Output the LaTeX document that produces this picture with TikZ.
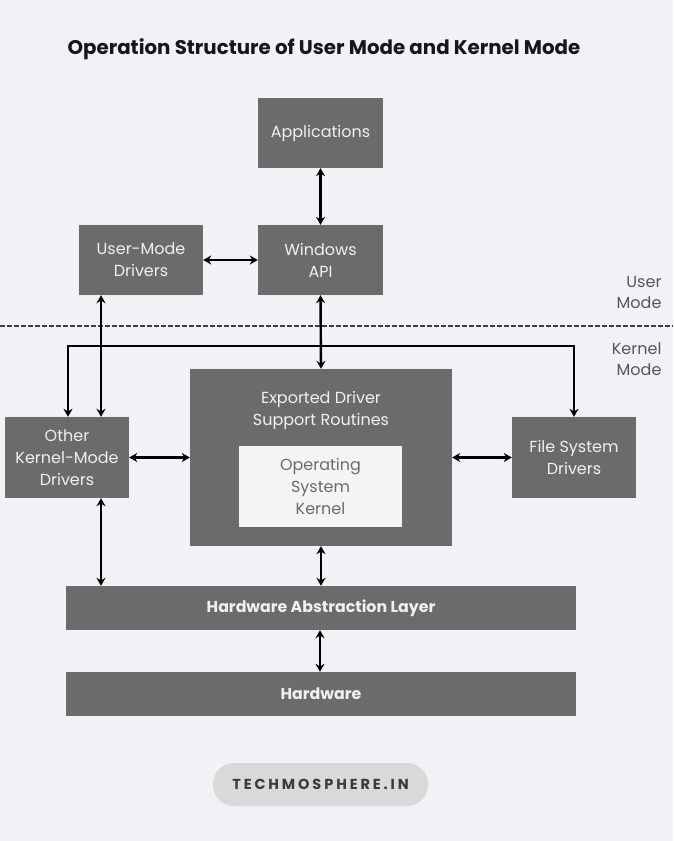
\documentclass[tikz,border=0pt]{standalone}
\usepackage{fontspec}
\setmainfont{Poppins}
\usetikzlibrary{arrows.meta}
\definecolor{bg}{HTML}{F1F2F5}
\definecolor{boxg}{HTML}{6B6B6B}
\definecolor{inner}{HTML}{F4F4F6}
\definecolor{pill}{HTML}{D9D9DA}
\definecolor{ttl}{HTML}{16161C}
\tikzset{
  gbox/.style={draw=none, fill=boxg, text=white!94!black, align=center, inner sep=0pt,
    font=\fontsize{16}{22}\selectfont},
  conn/.style={line width=2.4pt, black, {Stealth[length=8pt,width=9pt]}-{Stealth[length=8pt,width=9pt]}},
  oneway/.style={line width=2pt, black, -{Stealth[length=8pt,width=9pt]}},
  side/.style={text=boxg!80!black, align=right, anchor=east, font=\fontsize{16}{21}\selectfont}
}
\begin{document}
\begin{tikzpicture}[x=1pt,y=-1pt]
\fill[bg] (0,0) rectangle (673,841);
\useasboundingbox (0,0) rectangle (673,841);

\node[font=\fontsize{19.8}{22}\selectfont\bfseries, text=ttl] (title) at (324,49) {Operation Structure of User Mode and Kernel Mode};

\node[gbox, minimum width=125pt, minimum height=70pt] (app) at (320.5,133) {\raisebox{-2pt}{Applications}};
\node[gbox, minimum width=125pt, minimum height=70pt] (api) at (320.5,260) {Windows\\API};
\node[gbox, minimum width=124pt, minimum height=70pt] (umd) at (141,260) {User-Mode\\Drivers};

\draw[line width=1.3pt, dash pattern=on 4.5pt off 2.5pt, black!75] (0,326) -- (673,326);
\node[side] (um) at (665,292.5) {User\\Mode};
\node[side] (km) at (665,359.5) {Kernel\\Mode};

\node[gbox, minimum width=262pt, minimum height=177pt] (exp) at (321,457.5) {};
\node[text=white!94!black, align=center, font=\fontsize{16}{22}\selectfont] (exptxt) at (321,410.5) {Exported Driver\\Support Routines};
\node[fill=inner, text=boxg, align=center, inner sep=0pt, minimum width=163pt, minimum height=81pt, font=\fontsize{16}{22}\selectfont] (osk) at (320.5,486.5) {Operating\\System\\Kernel};

\node[gbox, minimum width=124pt, minimum height=81pt] (okm) at (67,457.5) {Other\\Kernel-Mode\\Drivers};
\node[gbox, minimum width=124pt, minimum height=81pt] (fsd) at (574,457.5) {File System\\Drivers};

\node[gbox, minimum width=510pt, minimum height=44pt, font=\fontsize{15.8}{20}\selectfont\bfseries] (hal) at (321,608) {Hardware Abstraction Layer};
\node[gbox, minimum width=510pt, minimum height=44pt, font=\fontsize{15.8}{20}\selectfont\bfseries] (hw) at (321,694) {Hardware};

\node[fill=pill, rounded corners=21pt, minimum width=215pt, minimum height=43pt, inner sep=0pt, text=ttl!85!white, font=\fontsize{14.5}{16}\selectfont\bfseries\addfontfeatures{LetterSpace=20}] (brand) at (320.5,784.5) {TECHMOSPHERE.IN};

% connectors
\draw[conn] (app.south) -- (api.north);
\draw[conn] (umd.east) -- (api.west);
\draw[conn] (umd.south -| 101,0) -- (okm.north -| 101,0);
\draw[conn] (api.south) -- (exp.north);
\coordinate (bl) at (68,346);
\coordinate (br) at (574,346);
\draw[oneway] (bl -| br) -- (bl) -- (okm.north -| bl);
\draw[oneway] (bl) -- (br) -- (fsd.north -| br);
\draw[conn] (okm.east) -- (exp.west);
\draw[conn] (exp.east) -- (fsd.west);
\draw[conn] (okm.south -| 101,0) -- (hal.north -| 101,0);
\draw[conn] (exp.south) -- (hal.north -| exp.south);
\draw[conn] (hal.south -| 320,0) -- (hw.north -| 320,0);
\end{tikzpicture}
\end{document}
